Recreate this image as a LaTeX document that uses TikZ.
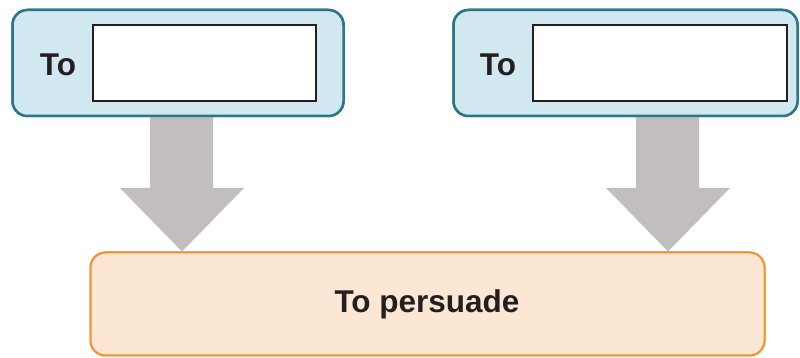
\documentclass[tikz,border=0pt]{standalone}
\usepackage{fontspec}
\setmainfont{Liberation Sans}
\usetikzlibrary{calc}
\definecolor{bluefill}{HTML}{D1E8F0}
\definecolor{blueline}{HTML}{2B7688}
\definecolor{orfill}{HTML}{FCE6D4}
\definecolor{orline}{HTML}{F0922F}
\definecolor{arrowgray}{HTML}{C2BEBD}
\definecolor{txt}{HTML}{231F20}
\begin{document}
\begin{tikzpicture}[x=1pt,y=1pt,
  bluebox/.style={draw=blueline,fill=bluefill,line width=2.5pt,rounded corners=15pt,minimum height=106pt},
  inbox/.style={draw=txt,fill=white,line width=2pt,minimum width=#1,minimum height=76pt},
  orbox/.style={draw=orline,fill=orfill,line width=2pt,rounded corners=15pt,minimum width=674pt,minimum height=103pt},
  lbl/.style={font=\bfseries\fontsize{31.5}{35}\selectfont,text=txt,inner sep=0pt}]
\useasboundingbox (0,0) rectangle (800,358);
\node[bluebox,minimum width=331pt] (L) at (178,295) {};
\node[bluebox,minimum width=344pt] (R) at (625.5,295) {};
\node[orbox] (B) at (427.5,54) {};
\fill[arrowgray] (L.south -| 150,0) -- (213,188 |- L.south) -- (213,170) -- (244,170) -- (B.north -| 182,0) -- (120,170) -- (150,170) -- cycle;
\fill[arrowgray] (R.south -| 636,0) -- (699,188 |- R.south) -- (699,170) -- (730,170) -- (B.north -| 668,0) -- (606,170) -- (636,170) -- cycle;
\node[bluebox,minimum width=331pt] at (L) {};
\node[bluebox,minimum width=344pt] at (R) {};
\node[orbox] at (B) {};
\node[inbox=223pt] (LI) at (204.5,295) {};
\node[inbox=254pt] (RI) at (660,295) {};
\node[lbl] (LT) at (58,293) {To};
\node[lbl] (RT) at (498,293) {To};
\node[lbl] (BT) at (427,54) {To persuade};
\end{tikzpicture}
\end{document}
